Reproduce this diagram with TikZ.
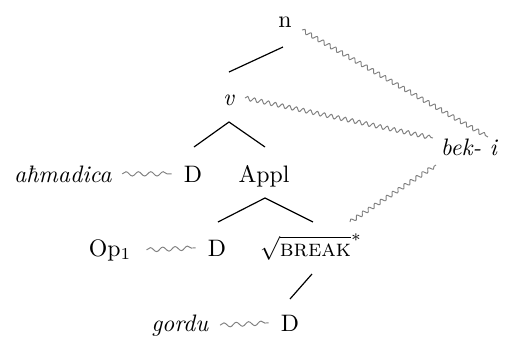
\documentclass[tikz,border=0pt]{standalone}
\usepackage{fontspec}
\usepackage{amsmath}
\usetikzlibrary{decorations.pathmorphing, calc}

\tikzset{
  lbl/.style={anchor=base, inner sep=3.3pt},
  branch/.style={line width=0.5pt},
  agree/.style={gray, line width=0.4pt, decorate, decoration={snake, amplitude=0.85pt, segment length=3pt}},
  hlink/.style={gray, line width=0.4pt, decorate, decoration={snake, amplitude=0.9pt, segment length=5.2pt}}
}

\begin{document}
\begin{tikzpicture}[x=0.42pt, y=-0.42pt]
      \useasboundingbox (0, 0) rectangle (505, 338);

      \node[lbl] (n) at (285, 27) {n};
      \node[lbl] (v) at (229, 105) {\textit{v}};
      \node[lbl] (ahm) at (63, 182) {\textit{aħmadica}};
      \node[lbl] (d1) at (193, 182) {D};
      \node[lbl] (appl) at (264, 182) {Appl};
      \node[lbl] (bek) at (461, 155) {\textit{bek-}};
      \node[lbl] (i) at (494, 155) {\textit{i}};
      \node[lbl] (op) at (110, 256) {Op$_1$};
      \node[lbl] (d2) at (217, 256) {D};
      \node[lbl] (brk) at (311, 256) {$\sqrt{\textsc{break}}^{*}$};
      \node[lbl] (gordu) at (180, 331) {\textit{gordu}};
      \node[lbl] (d3) at (290, 331) {D};

      % branch points of the tree
      \coordinate (n-b) at (283, 47);
      \coordinate (v-t) at (229, 72);
      \coordinate (v-b) at (229, 122);
      \coordinate (d1-t) at (194, 147);
      \coordinate (appl-t) at (265, 147);
      \coordinate (appl-b) at (265, 198);
      \coordinate (d2-t) at (218, 222);
      \coordinate (brk-t) at (313, 222);
      \coordinate (brk-b) at (312, 274);
      \coordinate (d3-t) at (290, 299);

      \draw[branch] (n-b) -- (v-t);
      \draw[branch] (d1-t) -- (v-b) -- (appl-t);
      \draw[branch] (d2-t) -- (appl-b) -- (brk-t);
      \draw[branch] (brk-b) -- (d3-t);

      % ends of the long agreement lines
      \coordinate (n-r) at (302, 30);
      \coordinate (i-l) at (488, 137);
      \coordinate (v-r) at (245, 98);
      \coordinate (bek-l) at (433, 138);
      \coordinate (brk-r) at (350, 222);
      \coordinate (bek-d) at (436, 165);

      \draw[agree] (n-r) -- (i-l);
      \draw[agree] (v-r) -- (bek-l);
      \draw[agree] (brk-r) -- (bek-d);

      \draw[hlink] ($(ahm.east)+(2, 0)$) -- ($(d1.west)+(-4, 0)$);
      \draw[hlink] ($(op.east)+(7, 0)$) -- ($(d2.west)+(-4, 0)$);
      \draw[hlink] ($(gordu.east)+(3, 0)$) -- ($(d3.west)+(-4, 0)$);

    \end{tikzpicture}
\end{document}
